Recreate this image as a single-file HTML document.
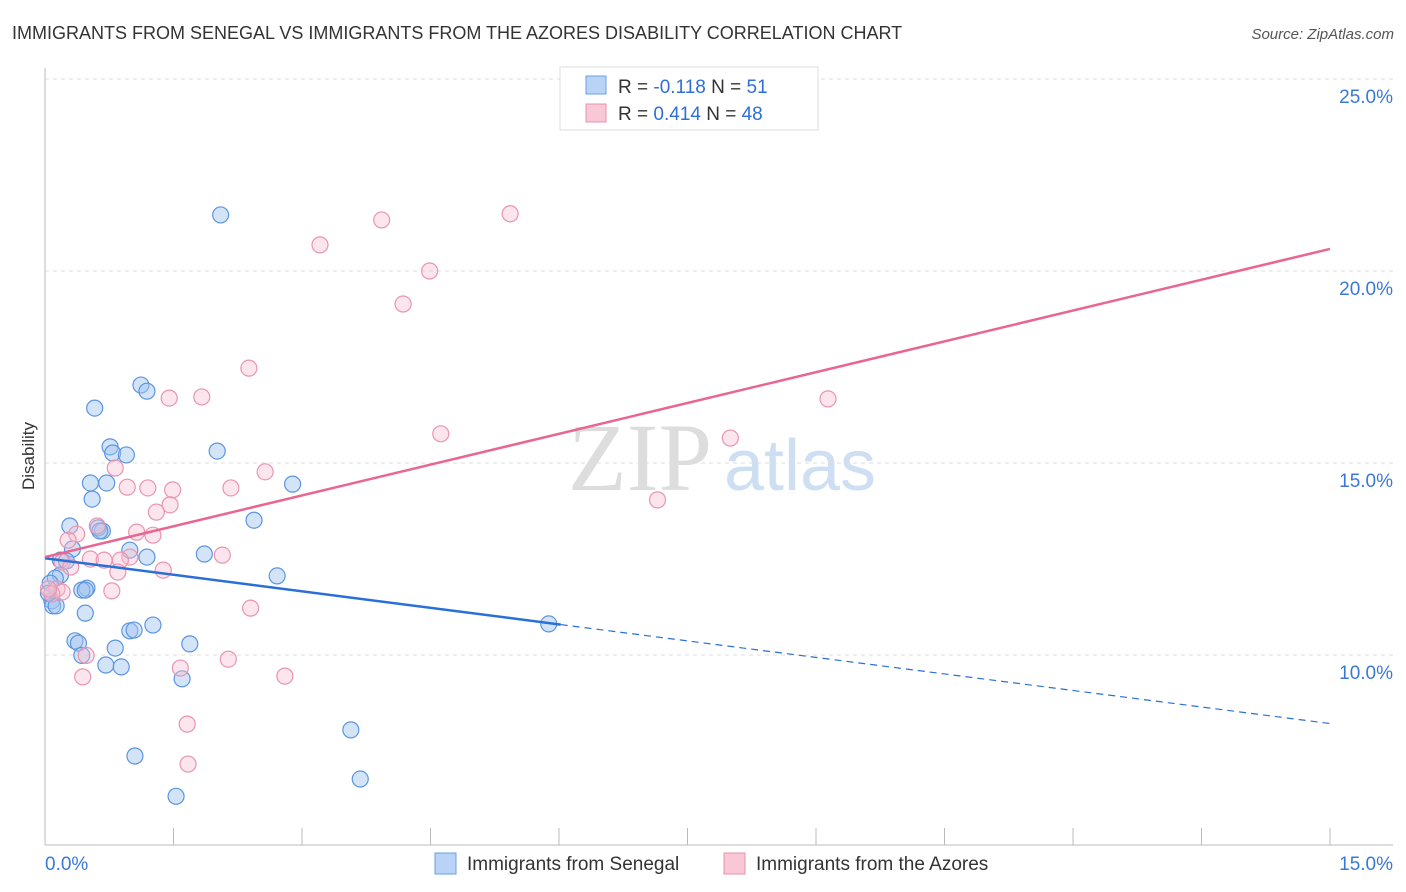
<!DOCTYPE html>
<html><head><meta charset="utf-8"><style>
body{margin:0;background:#fff;font-family:"Liberation Sans",sans-serif;}
#wrap{position:relative;width:1406px;height:892px;overflow:hidden}
</style></head><body>
<div id="wrap">
<svg id="svg" width="1406" height="892" xmlns="http://www.w3.org/2000/svg">
<text x="12" y="39" font-size="18" fill="#333">IMMIGRANTS FROM SENEGAL VS IMMIGRANTS FROM THE AZORES DISABILITY CORRELATION CHART</text>
<text x="1394" y="39" font-size="15" fill="#555" font-style="italic" text-anchor="end">Source: ZipAtlas.com</text>
<text x="34" y="456" font-size="17" fill="#333" transform="rotate(-90 34 456)" text-anchor="middle">Disability</text>
<g><text x="640" y="490" font-size="96" fill="#ddd" font-family="Liberation Serif" text-anchor="middle">ZIP</text><text x="800" y="490" font-size="72" fill="#cfdff3" text-anchor="middle">atlas</text></g>
<g id="grid"></g><g id="marks"></g>
<g>
<rect x="560" y="67" width="258" height="63" fill="#fff" stroke="#ddd"/>
<rect x="586" y="76" width="20" height="18" fill="#b8d3f5" stroke="#6a9fe0"/>
<rect x="586" y="104" width="20" height="18" fill="#f8c8d6" stroke="#e890ad"/>
<text x="618" y="93" font-size="19" fill="#333">R = <tspan fill="#2f6fd6">-0.118</tspan>   N = <tspan fill="#2f6fd6"> 51</tspan></text>
<text x="618" y="120" font-size="19" fill="#333">R = <tspan fill="#2f6fd6"> 0.414</tspan>   N = <tspan fill="#2f6fd6">48</tspan></text>
</g>
<g>
<rect x="435" y="853" width="21" height="21" fill="#b8d3f5" stroke="#6a9fe0"/>
<text x="467" y="870" font-size="19" fill="#333">Immigrants from Senegal</text>
<rect x="724" y="853" width="21" height="21" fill="#f8c8d6" stroke="#e890ad"/>
<text x="756" y="870" font-size="19" fill="#333">Immigrants from the Azores</text>
</g>
</svg></div>
<script>
const yTicks=[10,15,20,25];
const xTickLabels=["0.0%","15.0%"];
const senegalX=[2.05,1.12,1.19,0.58,0.76,0.79,0.95,2.01,0.53,0.72,2.89,0.55,2.44,0.29,0.62,0.67,0.64,0.32,0.18,0.25,0.99,1.19,1.86,2.71,0.18,0.12,0.06,0.49,0.43,0.47,0.08,0.09,0.13,0.47,0.99,1.04,1.26,0.35,0.39,0.43,0.82,1.69,0.71,0.89,1.6,3.57,1.05,3.68,1.53,5.88,0.04];
const senegalY=[21.46,17.03,16.87,16.43,15.42,15.26,15.21,15.31,14.48,14.48,14.45,14.06,13.51,13.36,13.31,13.23,13.23,12.76,12.47,12.45,12.73,12.55,12.63,12.06,12.08,12.0,11.87,11.74,11.69,11.69,11.41,11.28,11.28,11.09,10.63,10.65,10.78,10.37,10.31,9.99,10.18,10.29,9.74,9.69,9.38,8.05,7.37,6.77,6.32,10.81,11.61];
const azoresX=[5.43,3.93,3.21,4.49,4.18,2.38,1.45,1.83,9.14,4.62,8.0,0.82,2.57,0.96,1.2,1.49,2.17,7.15,1.46,1.3,0.61,0.37,1.07,1.26,0.27,0.99,0.53,0.88,0.69,0.2,0.3,2.07,1.38,0.85,0.14,0.2,0.78,0.08,2.4,0.48,2.14,1.58,0.44,2.8,1.66,1.67,0.04];
const azoresY=[21.49,21.33,20.68,20.0,19.14,17.47,16.69,16.72,16.67,15.76,15.65,14.87,14.77,14.37,14.35,14.3,14.35,14.04,13.91,13.72,13.36,13.15,13.2,13.12,12.99,12.55,12.5,12.47,12.47,12.42,12.29,12.6,12.21,12.16,11.72,11.64,11.67,11.59,11.22,9.99,9.89,9.66,9.43,9.45,8.2,7.16,11.72];
const sx=v=>45+v/15*1285, sy=v=>79+(25-v)*38.4;
const NS="http://www.w3.org/2000/svg";
function mk(t,a,p){const e=document.createElementNS(NS,t);for(const k in a)e.setAttribute(k,a[k]);p.appendChild(e);return e;}
const g=document.getElementById('grid'), m=document.getElementById('marks');
yTicks.forEach(t=>{
 const l=mk('line',{x1:45,x2:1393,y1:sy(t),y2:sy(t),stroke:'#ddd','stroke-dasharray':'4,4'},g);
 
 
 const tx=mk('text',{x:1393,y:sy(t)+24,'font-size':19,fill:'#3a78d8','text-anchor':'end'},g);
 tx.textContent=t.toFixed(1)+'%';
 
 
});
mk('line',{x1:45,x2:45,y1:68,y2:845,stroke:'#bbb'},g);
mk('line',{x1:45,x2:1393,y1:845,y2:845,stroke:'#bbb'},g);
for(let i=1;i<=10;i++){const x=45+i*128.5;mk('line',{x1:x,x2:x,y1:828,y2:845,stroke:'#bbb'},g);}
[[0,'start',45],[1,'end',1393]].forEach(([i,a,x])=>{const t=mk('text',{x:x,y:870,'font-size':19,fill:'#3a78d8','text-anchor':a},g);t.textContent=xTickLabels[i];

});
senegalX.forEach((v,i)=>{const c=mk('circle',{cx:sx(v),cy:sy(senegalY[i]),r:8,fill:'rgba(160,196,240,0.45)',stroke:'#5b95e0','stroke-width':1.2},m);

});
azoresX.forEach((v,i)=>{const c=mk('circle',{cx:sx(v),cy:sy(azoresY[i]),r:8,fill:'rgba(248,190,208,0.4)',stroke:'#e895b0','stroke-width':1.2},m);

});
const bl=(x)=>12.52-0.287*x, pl=(x)=>12.55+0.535*x;
let l=mk('line',{x1:sx(0),y1:sy(bl(0)),x2:sx(6.02),y2:sy(bl(6.02)),stroke:'#2a6fd8','stroke-width':2.5},m);


l=mk('line',{x1:sx(6.02),y1:sy(bl(6.02)),x2:sx(15),y2:sy(bl(15)),stroke:'#2a6fd8','stroke-width':1.2,'stroke-dasharray':'7,5'},m);


l=mk('line',{x1:sx(0),y1:sy(pl(0)),x2:sx(15),y2:sy(pl(15)),stroke:'#e8668f','stroke-width':2.5},m);


</script>
</body></html>
